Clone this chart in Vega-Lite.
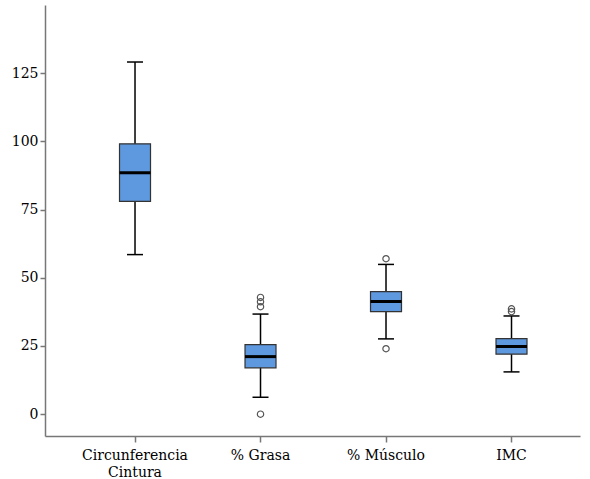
{
  "$schema": "https://vega.github.io/schema/vega-lite/v6.json",
  "autosize": "none",
  "width": 535,
  "height": 431,
  "padding": {"left": 45, "top": 5, "right": 10, "bottom": 43},
  "background": "white",
  "config": {
    "view": {"stroke": null},
    "font": "DejaVu Serif"
  },
  "datasets": {
    "stats": [
      {"variable": "Circunferencia Cintura", "lower": 58.5, "q1": 78.0, "median": 88.5, "q3": 99.1, "upper": 129.1},
      {"variable": "% Grasa", "lower": 6.2, "q1": 17.0, "median": 21.1, "q3": 25.5, "upper": 36.7},
      {"variable": "% Músculo", "lower": 27.6, "q1": 37.6, "median": 41.3, "q3": 44.9, "upper": 54.9},
      {"variable": "IMC", "lower": 15.5, "q1": 22.0, "median": 24.8, "q3": 27.7, "upper": 36.0}
    ],
    "outliers": [
      {"variable": "% Grasa", "value": 42.8},
      {"variable": "% Grasa", "value": 41.2},
      {"variable": "% Grasa", "value": 39.4},
      {"variable": "% Grasa", "value": 0.0},
      {"variable": "% Músculo", "value": 57.0},
      {"variable": "% Músculo", "value": 24.0},
      {"variable": "IMC", "value": 38.6},
      {"variable": "IMC", "value": 37.6}
    ]
  },
  "encoding": {
    "x": {
      "field": "variable",
      "type": "nominal",
      "sort": ["Circunferencia Cintura", "% Grasa", "% Músculo", "IMC"],
      "scale": {"domain": ["Circunferencia Cintura", "% Grasa", "% Músculo", "IMC"], "paddingInner": 0, "paddingOuter": 0.1315, "align": 0.826},
      "axis": {
        "title": null,
        "labelAngle": 0,
        "labelFont": "DejaVu Serif",
        "labelFontSize": 14,
        "labelColor": "#000000",
        "labelPadding": 6,
        "labelLineHeight": 17,
        "labelExpr": "datum.label == 'Circunferencia Cintura' ? ['Circunferencia', 'Cintura'] : datum.label",
        "domainColor": "#777777",
        "domainWidth": 1.5,
        "tickColor": "#777777",
        "tickSize": 6,
        "tickWidth": 1.5,
        "grid": false
      }
    }
  },
  "layer": [
    {
      "data": {"name": "stats"},
      "mark": {"type": "rule", "color": "#000000", "strokeWidth": 1.5},
      "encoding": {
        "y": {
          "field": "lower",
          "type": "quantitative",
          "scale": {"domain": [-8, 150], "nice": false, "zero": false},
          "axis": {
            "title": null,
            "values": [0, 25, 50, 75, 100, 125],
            "labelFont": "DejaVu Serif",
            "labelFontSize": 14,
            "labelColor": "#000000",
            "labelPadding": 2,
            "domainColor": "#777777",
            "domainWidth": 1.5,
            "tickColor": "#777777",
            "tickSize": 5,
            "tickWidth": 1.5,
            "grid": false
          }
        },
        "y2": {"field": "upper"}
      }
    },
    {
      "data": {"name": "stats"},
      "mark": {"type": "tick", "color": "#000000", "size": 16, "thickness": 1.5, "orient": "horizontal", "opacity": 1},
      "encoding": {"y": {"field": "upper", "type": "quantitative"}}
    },
    {
      "data": {"name": "stats"},
      "mark": {"type": "tick", "color": "#000000", "size": 16, "thickness": 1.5, "orient": "horizontal", "opacity": 1},
      "encoding": {"y": {"field": "lower", "type": "quantitative"}}
    },
    {
      "data": {"name": "stats"},
      "mark": {"type": "bar", "size": 31, "fill": "#5E98DF", "stroke": "#333333", "strokeWidth": 1.2},
      "encoding": {
        "y": {"field": "q1", "type": "quantitative"},
        "y2": {"field": "q3"}
      }
    },
    {
      "data": {"name": "stats"},
      "mark": {"type": "tick", "color": "#000000", "size": 31, "thickness": 3, "orient": "horizontal", "opacity": 1},
      "encoding": {"y": {"field": "median", "type": "quantitative"}}
    },
    {
      "data": {"name": "outliers"},
      "mark": {"type": "point", "shape": "circle", "filled": false, "color": "#555555", "strokeWidth": 1.2, "size": 40, "opacity": 1},
      "encoding": {"y": {"field": "value", "type": "quantitative"}}
    }
  ]
}
